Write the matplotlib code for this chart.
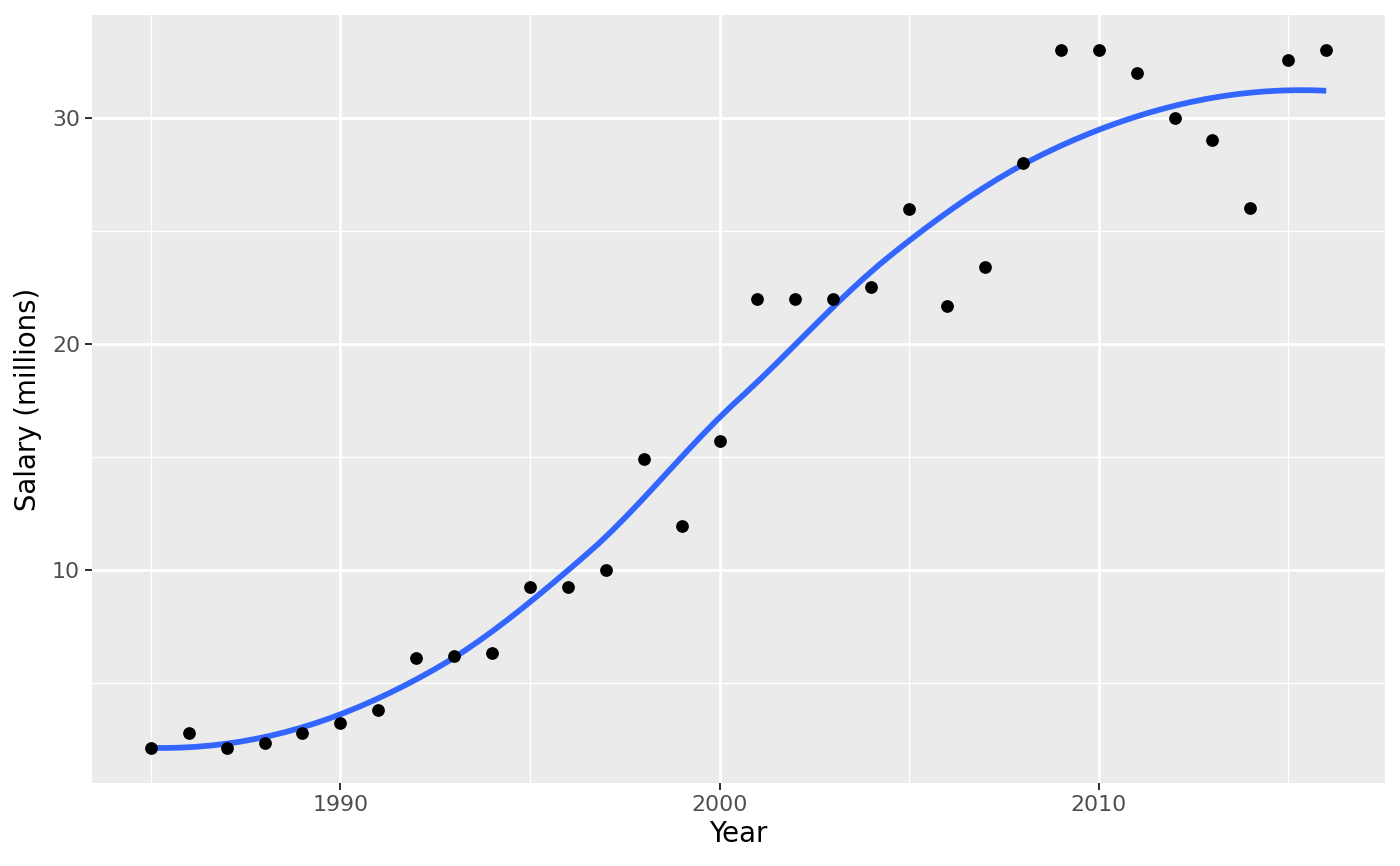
import numpy as np
import matplotlib
matplotlib.use("Agg")
import matplotlib.pyplot as plt

# Données
years = [1985, 1986, 1987, 1988, 1989, 1990, 1991, 1992, 1993, 1994, 1995,
         1996, 1997, 1998, 1999, 2000, 2001, 2002, 2003, 2004, 2005, 2006,
         2007, 2008, 2009, 2010, 2011, 2012, 2013, 2014, 2015, 2016]
salary = [2.13, 2.81, 2.13, 2.35, 2.79, 3.23, 3.82, 6.12, 6.20, 6.32, 9.26,
          9.26, 10.0, 14.93, 11.96, 15.71, 22.0, 22.0, 22.0, 22.5, 25.98, 21.67,
          23.42, 28.0, 33.0, 33.0, 32.0, 30.0, 29.0, 26.0, 32.56, 33.0]


def local_fit(x, y, x0, span=0.75):
    # régression locale quadratique, poids tricube -> valeur et pente en x0
    q = int(np.floor(span * len(x)))
    d = np.abs(x - x0)
    h = np.sort(d)[q - 1]
    w = np.clip(1 - (d / h) ** 3, 0, None) ** 3
    X = np.column_stack([np.ones_like(x), x - x0, (x - x0) ** 2])
    W = np.sqrt(w)
    beta = np.linalg.lstsq(X * W[:, None], y * W, rcond=None)[0]
    return beta[0], beta[1]


def loess(x, y, xnew, span=0.75):
    # comme R (surface = "interpolate") : ajustement aux sommets puis Hermite cubique
    x = np.asarray(x, float)
    y = np.asarray(y, float)
    fc = int(np.floor(len(x) * span * 0.2))
    xsorted = np.sort(x)
    verts = set()

    def split(pts):
        if len(pts) <= fc:
            return
        m = len(pts) // 2
        v = (pts[m - 1] + pts[m]) / 2
        verts.add(v)
        split(pts[:m])
        split(pts[m:])

    split(xsorted)
    t = 0.005 * (x.max() - x.min())
    verts = np.array(sorted(verts | {x.min() - t, x.max() + t}))
    vals = np.array([local_fit(x, y, v, span) for v in verts])
    out = []
    for x0 in xnew:
        i = min(np.searchsorted(verts, x0) - 1, len(verts) - 2)
        i = max(i, 0)
        a, b = verts[i], verts[i + 1]
        hh = b - a
        s = (x0 - a) / hh
        h00 = 2 * s ** 3 - 3 * s ** 2 + 1
        h10 = s ** 3 - 2 * s ** 2 + s
        h01 = -2 * s ** 3 + 3 * s ** 2
        h11 = s ** 3 - s ** 2
        out.append(h00 * vals[i, 0] + h10 * hh * vals[i, 1]
                   + h01 * vals[i + 1, 0] + h11 * hh * vals[i + 1, 1])
    return np.array(out)


xs = np.linspace(min(years), max(years), 80)
ys = loess(years, salary, xs)

fig = plt.figure(figsize=(1400 / 180, 866 / 180), dpi=180)
ax = fig.add_axes([92 / 1400, 1 - 783 / 866, (1385 - 92) / 1400, (783 - 15) / 866])
ax.set_facecolor('#EBEBEB')

# Grille façon ggplot
for v in [1985, 1995, 2005, 2015]:
    ax.axvline(v, color='white', lw=0.55, zorder=0)
for v in [5, 15, 25]:
    ax.axhline(v, color='white', lw=0.55, zorder=0)
for v in [1990, 2000, 2010]:
    ax.axvline(v, color='white', lw=1.1, zorder=0)
for v in [10, 20, 30]:
    ax.axhline(v, color='white', lw=1.1, zorder=0)

ax.scatter(years, salary, s=26, color='black', zorder=3, linewidths=0)
ax.plot(xs, ys, color='#3366FF', lw=2.3, zorder=2, solid_capstyle='butt')

xr = max(years) - min(years)
yr = max(salary) - min(salary)
ax.set_xlim(min(years) - 0.05 * xr, max(years) + 0.05 * xr)
ax.set_ylim(min(salary) - 0.05 * yr, max(salary) + 0.05 * yr)

ax.set_xticks([1990, 2000, 2010])
ax.set_yticks([10, 20, 30])
ax.tick_params(axis='both', colors='#333333', labelsize=8.8, length=2.75, width=0.8,
               labelcolor='#4D4D4D', pad=2)
for s in ax.spines.values():
    s.set_visible(False)

ax.set_xlabel('Year', fontsize=11, color='black', labelpad=2)
ax.set_ylabel('Salary (millions)', fontsize=11, color='black', labelpad=4)

plt.savefig('out.png', dpi=180)
